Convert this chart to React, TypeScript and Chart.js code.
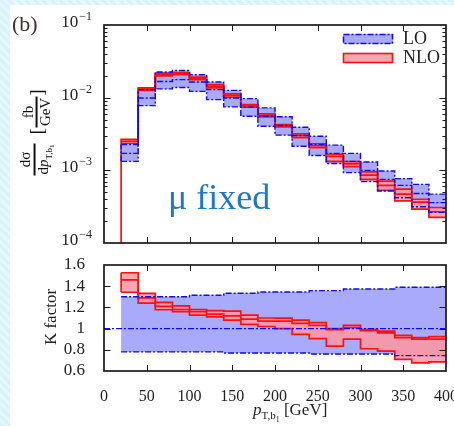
import React, { useEffect, useRef } from "react";
import { Chart, registerables } from "chart.js";

Chart.register(...registerables);

// ---------- data ----------
const binStarts = [20, 40, 60, 80, 100, 120, 140, 160, 180, 200, 220, 240, 260, 280, 300, 320, 340, 360, 380];
const binEnd = 400;
const xTickValues = [0, 50, 100, 150, 200, 250, 300, 350, 400];
const yDecades = [1e-4, 1e-3, 1e-2, 1e-1];
const kTickValues = [0.6, 0.8, 1, 1.2, 1.4, 1.6];
const kTickLabels = ["0.6", "0.8", "1", "1.2", "1.4", "1.6"];
const kReference = 1;
const seriesLabels = ["LO", "NLO"];

// top panel: dσ/dpT [fb/GeV]
const loHigh = [2.27e-3, 1.29e-2, 2.25e-2, 2.37e-2, 2.07e-2, 1.64e-2, 1.26e-2, 9.7e-3, 7.23e-3, 5.45e-3, 3.92e-3, 2.95e-3, 2.22e-3, 1.71e-3, 1.3e-3, 9.8e-4, 7.7e-4, 6.4e-4, 4.7e-4];
const loCentral = [1.71e-3, 9.9e-3, 1.67e-2, 1.77e-2, 1.64e-2, 1.29e-2, 9.9e-3, 7.4e-3, 5.55e-3, 4.13e-3, 3.01e-3, 2.27e-3, 1.71e-3, 1.33e-3, 1.0e-3, 7.5e-4, 6.2e-4, 4.8e-4, 3.6e-4];
const loLow = [1.33e-3, 7.76e-3, 1.32e-2, 1.38e-2, 1.22e-2, 9.4e-3, 7.46e-3, 5.55e-3, 4.05e-3, 3.05e-3, 2.15e-3, 1.6e-3, 1.24e-3, 9.3e-4, 7.0e-4, 5.2e-4, 4.2e-4, 3.15e-4, 2.64e-4];
const nloHigh = [2.66e-3, 1.36e-2, 2.18e-2, 2.22e-2, 1.92e-2, 1.51e-2, 1.13e-2, 8.0e-3, 5.98e-3, 4.27e-3, 3.18e-3, 2.32e-3, 1.66e-3, 1.32e-3, 9.5e-4, 7.1e-4, 5.5e-4, 4.0e-4, 3.08e-4];
const nloCentral = [2.5e-3, 1.31e-2, 2.08e-2, 2.15e-2, 1.85e-2, 1.43e-2, 1.08e-2, 7.76e-3, 5.7e-3, 4.1e-3, 2.99e-3, 2.18e-3, 1.55e-3, 1.23e-3, 8.6e-4, 6.2e-4, 4.7e-4, 3.65e-4, 2.69e-4];
const nloLow = [2.34e-3, 1.26e-2, 2.0e-2, 2.07e-2, 1.77e-2, 1.36e-2, 1.02e-2, 7.4e-3, 5.45e-3, 3.97e-3, 2.81e-3, 2.05e-3, 1.33e-3, 1.12e-3, 7.5e-4, 5.3e-4, 3.8e-4, 2.92e-4, 2.25e-4];
const dropFloor = 1e-5;

// bottom panel: K factor
const kLoHigh = [1.3, 1.3, 1.3, 1.3, 1.315, 1.315, 1.333, 1.333, 1.345, 1.345, 1.345, 1.358, 1.358, 1.374, 1.374, 1.374, 1.39, 1.39, 1.39];
const kLoLow = [0.78, 0.78, 0.78, 0.78, 0.78, 0.78, 0.77, 0.77, 0.77, 0.77, 0.77, 0.76, 0.76, 0.76, 0.76, 0.76, 0.745, 0.745, 0.745];
const kNloHigh = [1.527, 1.333, 1.248, 1.215, 1.18, 1.17, 1.165, 1.127, 1.1, 1.098, 1.08, 1.057, 1.0, 1.03, 0.993, 0.977, 0.936, 0.914, 0.924];
const kNloCentral = [1.46, 1.29, 1.21, 1.18, 1.16, 1.136, 1.12, 1.09, 1.07, 1.07, 1.05, 1.03, 0.99, 1.01, 0.98, 0.96, 0.914, 0.9, 0.9];
const kNloLow = [1.343, 1.24, 1.178, 1.16, 1.127, 1.11, 1.08, 1.04, 1.02, 1.0, 0.946, 0.905, 0.835, 0.9, 0.81, 0.787, 0.71, 0.676, 0.686];

// ---------- styles ----------
const SERIF = "'Liberation Serif', 'DejaVu Serif', serif";
const BLUE = "#0a0aff";
const BLUE_FILL = "rgb(170,170,252)";
const RED = "#ff1010";
const RED_FILL = "rgba(255,150,160,0.85)";
const DASHDOT = [6, 2, 2, 2];
const TXT = "#222";
const CW = 480;

function steps(vals: number[]) {
  const pts = binStarts.map((x, i) => ({ x, y: vals[i] }));
  pts.push({ x: binEnd, y: vals[vals.length - 1] });
  return pts;
}

function lineDs(data: any[], color: string, width: number, dash: number[] = [], stepped: any = "before") {
  return {
    type: "line",
    data,
    borderColor: color,
    borderWidth: width,
    borderDash: dash,
    pointRadius: 0,
    stepped,
    tension: 0,
    fill: false,
  };
}

function fillDs(data: any[], color: string, target: number | false) {
  return {
    type: "line",
    data,
    borderColor: "rgba(0,0,0,0)",
    borderWidth: 1,
    backgroundColor: color,
    pointRadius: 0,
    stepped: "before",
    tension: 0,
    fill: target,
  };
}

function framePlugin(opts: { yMajor: number[]; yMinor: number[]; decadeLabels?: boolean; legend?: boolean }) {
  return {
    id: "frameTicks",
    afterDraw(chart: any) {
      const { ctx, chartArea: a } = chart;
      const xs = chart.scales.x;
      const ys = chart.scales.y;
      ctx.save();
      ctx.strokeStyle = "#1a1a1a";
      ctx.lineWidth = 1;
      ctx.setLineDash([]);
      ctx.beginPath();
      xTickValues.forEach((v) => {
        if (v <= xs.min || v >= xs.max) return;
        const px = Math.round(xs.getPixelForValue(v)) + 0.5;
        ctx.moveTo(px, a.bottom);
        ctx.lineTo(px, a.bottom - 6);
        ctx.moveTo(px, a.top);
        ctx.lineTo(px, a.top + 6);
      });
      const yt = (v: number, len: number) => {
        const py = Math.round(ys.getPixelForValue(v)) + 0.5;
        ctx.moveTo(a.left, py);
        ctx.lineTo(a.left + len, py);
        ctx.moveTo(a.right, py);
        ctx.lineTo(a.right - len, py);
      };
      opts.yMajor.forEach((v) => {
        if (v <= ys.min || v >= ys.max) return;
        yt(v, 6.5);
      });
      opts.yMinor.forEach((v) => yt(v, 3.5));
      ctx.stroke();
      ctx.lineWidth = 1.7;
      ctx.strokeRect(a.left, a.top, a.right - a.left, a.bottom - a.top);

      if (opts.decadeLabels) {
        ctx.fillStyle = TXT;
        ctx.textAlign = "left";
        ctx.textBaseline = "alphabetic";
        opts.yMajor.forEach((v) => {
          const py = ys.getPixelForValue(v);
          const e = Math.round(Math.log10(v));
          const sup = "\u2212" + Math.abs(e);
          ctx.font = `12px ${SERIF}`;
          const sw = ctx.measureText(sup).width;
          ctx.font = `17px ${SERIF}`;
          const bw = ctx.measureText("10").width;
          const right = a.left - 12;
          ctx.fillText("10", right - sw - bw - 1, py + 2);
          ctx.font = `12px ${SERIF}`;
          ctx.fillText(sup, right - sw, py - 5);
        });
      }

      if (opts.legend) {
        const bx = a.right - 103;
        const entries = [
          { label: seriesLabels[0], fill: BLUE_FILL, stroke: BLUE, dash: DASHDOT, y: a.top + 9 },
          { label: seriesLabels[1], fill: RED_FILL, stroke: RED, dash: [] as number[], y: a.top + 28 },
        ];
        entries.forEach((en) => {
          ctx.fillStyle = en.fill;
          ctx.fillRect(bx, en.y, 50, 10);
          ctx.setLineDash(en.dash);
          ctx.strokeStyle = en.stroke;
          ctx.lineWidth = 1.6;
          ctx.strokeRect(bx + 0.5, en.y + 0.5, 49, 9);
          ctx.setLineDash([]);
          ctx.fillStyle = TXT;
          ctx.font = `18px ${SERIF}`;
          ctx.textBaseline = "middle";
          ctx.fillText(en.label, bx + 60, en.y + 5);
        });
      }
      ctx.restore();
    },
  };
}

function Frac({ num, den }: { num: React.ReactNode; den: React.ReactNode }) {
  return (
    <span style={{ display: "inline-flex", flexDirection: "column", alignItems: "center", verticalAlign: "middle", lineHeight: 1.05, margin: "0 1px" }}>
      <span style={{ padding: "0 1px" }}>{num}</span>
      <span style={{ borderTop: "2px solid #111", padding: "0 1px" }}>{den}</span>
    </span>
  );
}

export default function App() {
  const topRef = useRef<HTMLCanvasElement>(null);
  const botRef = useRef<HTMLCanvasElement>(null);

  useEffect(() => {
    const minorTop: number[] = [];
    for (let d = 0; d < yDecades.length - 1; d++) {
      for (let k = 2; k <= 9; k++) minorTop.push(k * yDecades[d]);
    }

    const topChart = new Chart(topRef.current as HTMLCanvasElement, {
      type: "line",
      data: {
        datasets: [
          lineDs(steps(loHigh), BLUE, 1.4, DASHDOT),
          lineDs(steps(loCentral), BLUE, 1.4, DASHDOT),
          lineDs(steps(loLow), BLUE, 1.4, DASHDOT),
          lineDs([{ x: binStarts[0], y: loLow[0] }, { x: binStarts[0], y: loHigh[0] }], BLUE, 1.4, DASHDOT, false),
          lineDs([{ x: binStarts[0], y: dropFloor }, ...steps(nloHigh)], RED, 1.7),
          lineDs(steps(nloCentral), RED, 1.7),
          lineDs(steps(nloLow), RED, 1.7),
          fillDs(steps(nloHigh), RED_FILL, 8),
          fillDs(steps(nloLow), RED_FILL, false),
          fillDs(steps(loHigh), BLUE_FILL, 10),
          fillDs(steps(loLow), BLUE_FILL, false),
        ] as any,
      },
      options: {
        responsive: false,
        animation: false,
        devicePixelRatio: 1,
        layout: { padding: { top: 25, right: CW - 446, bottom: 7, left: 0 } },
        plugins: { legend: { display: false }, tooltip: { enabled: false } },
        scales: {
          x: { type: "linear", min: 0, max: binEnd, display: false },
          y: {
            type: "logarithmic",
            min: yDecades[0],
            max: yDecades[yDecades.length - 1],
            display: true,
            grid: { display: false },
            border: { display: false },
            ticks: { display: false },
            afterFit: (s: any) => {
              s.width = 104;
              s.paddingTop = 0;
              s.paddingBottom = 0;
            },
          },
        },
      } as any,
      plugins: [framePlugin({ yMajor: yDecades, yMinor: minorTop, decadeLabels: true, legend: true })],
    });

    const botChart = new Chart(botRef.current as HTMLCanvasElement, {
      type: "line",
      data: {
        datasets: [
          lineDs(steps(kLoHigh), BLUE, 1.4, DASHDOT),
          lineDs([{ x: 0, y: kReference }, { x: binEnd, y: kReference }], BLUE, 1.4, DASHDOT, false),
          lineDs(steps(kLoLow), BLUE, 1.4, DASHDOT),
          lineDs(steps(kNloHigh), RED, 1.7),
          lineDs(steps(kNloCentral), RED, 1.7),
          lineDs(steps(kNloLow), RED, 1.7),
          lineDs([{ x: binStarts[0], y: kNloLow[0] }, { x: binStarts[0], y: kNloHigh[0] }], RED, 1.7, [], false),
          fillDs(steps(kNloHigh), RED_FILL, 8),
          fillDs(steps(kNloLow), RED_FILL, false),
          fillDs(steps(kLoHigh), BLUE_FILL, 10),
          fillDs(steps(kLoLow), BLUE_FILL, false),
        ] as any,
      },
      options: {
        responsive: false,
        animation: false,
        devicePixelRatio: 1,
        layout: { padding: { top: 15, right: CW - 446, bottom: 0, left: 0 } },
        plugins: { legend: { display: false }, tooltip: { enabled: false } },
        scales: {
          x: {
            type: "linear",
            min: 0,
            max: binEnd,
            grid: { display: false },
            border: { display: false },
            afterBuildTicks: (s: any) => {
              s.ticks = xTickValues.map((v) => ({ value: v }));
            },
            ticks: { autoSkip: false, maxRotation: 0, padding: 8, color: TXT, font: { family: SERIF, size: 16 } },
            afterFit: (s: any) => {
              s.height = 55;
              s.paddingLeft = 0;
              s.paddingRight = 0;
            },
          },
          y: {
            type: "linear",
            min: kTickValues[0],
            max: kTickValues[kTickValues.length - 1],
            grid: { display: false },
            border: { display: false },
            afterBuildTicks: (s: any) => {
              s.ticks = kTickValues.map((v) => ({ value: v }));
            },
            ticks: {
              autoSkip: false,
              padding: 11,
              color: TXT,
              font: { family: SERIF, size: 17 },
              callback: (_v: any, i: number) => kTickLabels[i],
            },
            afterFit: (s: any) => {
              s.width = 104;
              s.paddingTop = 0;
              s.paddingBottom = 0;
            },
          },
        },
      } as any,
      plugins: [framePlugin({ yMajor: kTickValues, yMinor: [] })],
    });

    return () => {
      topChart.destroy();
      botChart.destroy();
    };
  }, []);

  return (
    <div
      style={{
        position: "fixed",
        left: 0,
        top: 0,
        width: 454,
        height: 426,
        overflow: "hidden",
        fontFamily: SERIF,
        background: "repeating-linear-gradient(45deg, #d6f2fa 0px, #d6f2fa 3px, #e4f8fd 3px, #e4f8fd 6px)",
      }}
    >
      <div style={{ position: "absolute", left: 10, top: 5, right: 0, bottom: 0, background: "#fff" }} />
      <canvas ref={topRef} width={CW} height={250} style={{ position: "absolute", left: 0, top: 0 }} />
      <canvas ref={botRef} width={CW} height={176} style={{ position: "absolute", left: 0, top: 250 }} />

      <div style={{ position: "absolute", left: 12, top: 13, fontSize: 22, color: "#3a3030", lineHeight: 1 }}>(b)</div>

      <div
        style={{
          position: "absolute",
          left: 37,
          top: 133,
          transform: "translate(-50%, -50%) rotate(-90deg)",
          whiteSpace: "nowrap",
          fontSize: 15,
          color: "#111",
          display: "flex",
          alignItems: "center",
        }}
      >
        <Frac
          num={<span>dσ</span>}
          den={
            <span>
              d<i>p</i>
              <sub style={{ fontSize: 9 }}>T,b<sub style={{ fontSize: 7 }}>1</sub></sub>
            </span>
          }
        />
        <span style={{ marginLeft: 8, fontSize: 19 }}>[</span>
        <Frac num={<span>fb</span>} den={<span>GeV</span>} />
        <span style={{ fontSize: 19 }}>]</span>
      </div>

      <div
        style={{
          position: "absolute",
          left: 50,
          top: 317,
          transform: "translate(-50%, -50%) rotate(-90deg)",
          whiteSpace: "nowrap",
          fontSize: 17,
          color: TXT,
          lineHeight: 1,
        }}
      >
        K factor
      </div>

      <div style={{ position: "absolute", left: 168, top: 179, fontSize: 36, color: "#2077c6", lineHeight: 1, whiteSpace: "nowrap" }}>
        μ fixed
      </div>

      <div style={{ position: "absolute", left: 253, top: 401, fontSize: 17, color: TXT, lineHeight: 1, whiteSpace: "nowrap" }}>
        <i>p</i>
        <sub style={{ fontSize: 11 }}>
          T,b<sub style={{ fontSize: 8 }}>1</sub>
        </sub>{" "}
        [GeV]
      </div>
    </div>
  );
}
